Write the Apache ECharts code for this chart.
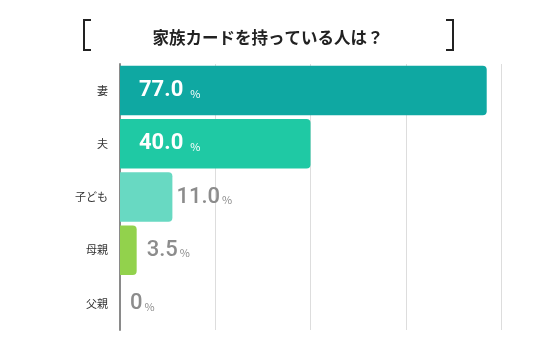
<!DOCTYPE html>
<html>
<head>
<meta charset="utf-8">
<script src="https://cdn.jsdelivr.net/npm/echarts@6/dist/echarts.min.js"></script>
<style>
  html, body { margin: 0; padding: 0; background: #fff; }
  #chart { width: 536px; height: 353px; }
</style>
</head>
<body>
<div id="chart"></div>
<script>
// 家族カードを持っている人は？
const categories = ['妻', '夫', '子ども', '母親', '父親']
const values = [77.0, 40.0, 11.0, 3.5, 0]
const valueLabels = ['77.0', '40.0', '11.0', '3.5', '0']
const barColors = ['#0fa8a2', '#1fc9a4', '#68d9c2', '#92d24c', '#cccccc']
const xTicks = [0, 20, 40, 60, 80]

const numFont = 'Roboto, sans-serif'
const jpFont = '"Noto Sans CJK JP", sans-serif'

const chart = echarts.init(document.getElementById('chart'))

const seriesData = values.map((v, i) => {
    // 大きいバーは白文字で内側、小さいバーは外側グレー
    const inside = v >= 20
    return {
        value: v,
        itemStyle: { color: barColors[i] },
        label: {
            position: inside ? 'insideLeft' : 'right',
            distance: inside ? 19 : (v >= 10 ? 4 : 10),
            rich: {
                v: {
                    fontFamily: numFont,
                    fontSize: 22,
                    fontWeight: inside ? 'bold' : 500,
                    color: inside ? '#ffffff' : '#8c8c8c'
                },
                p: {
                    fontFamily: jpFont,
                    fontSize: 11,
                    color: inside ? '#ffffff' : '#8c8c8c',
                    padding: [6, 0, 0, inside ? 7 : 2]
                }
            }
        }
    }
})

chart.setOption({
    animation: false,
    title: {
        text: '家族カードを持っている人は？',
        left: 'center',
        top: 24,
        textStyle: {
            fontFamily: jpFont,
            fontSize: 16.5,
            fontWeight: 'bold',
            color: '#222'
        }
    },
    graphic: [
        {
            type: 'polyline',
            shape: { points: [[91, 20], [84, 20], [84, 50], [91, 50]] },
            style: { stroke: '#222', lineWidth: 2, fill: null }
        },
        {
            type: 'polyline',
            shape: { points: [[446, 20], [453, 20], [453, 50], [446, 50]] },
            style: { stroke: '#222', lineWidth: 2, fill: null }
        }
    ],
    grid: {
        left: 120,
        right: 35,
        top: 64,
        bottom: 23
    },
    xAxis: {
        type: 'value',
        min: xTicks[0],
        max: xTicks[xTicks.length - 1],
        interval: xTicks[1] - xTicks[0],
        axisLine: { show: false },
        axisTick: { show: false },
        axisLabel: { show: false },
        splitLine: { lineStyle: { color: '#dddddd', width: 1 } }
    },
    yAxis: {
        type: 'category',
        data: categories,
        inverse: true,
        axisLine: { lineStyle: { color: '#8a8a8a', width: 2 } },
        axisTick: { show: false },
        axisLabel: {
            margin: 12,
            fontFamily: jpFont,
            fontSize: 11,
            color: '#333'
        }
    },
    series: [
        {
            type: 'bar',
            data: seriesData,
            barCategoryGap: '7%',
            itemStyle: { borderRadius: [0, 4, 4, 0] },
            label: {
                show: true,
                formatter: (p) => '{v|' + valueLabels[p.dataIndex] + '}{p|%}'
            }
        }
    ]
})
</script>
</body>
</html>
